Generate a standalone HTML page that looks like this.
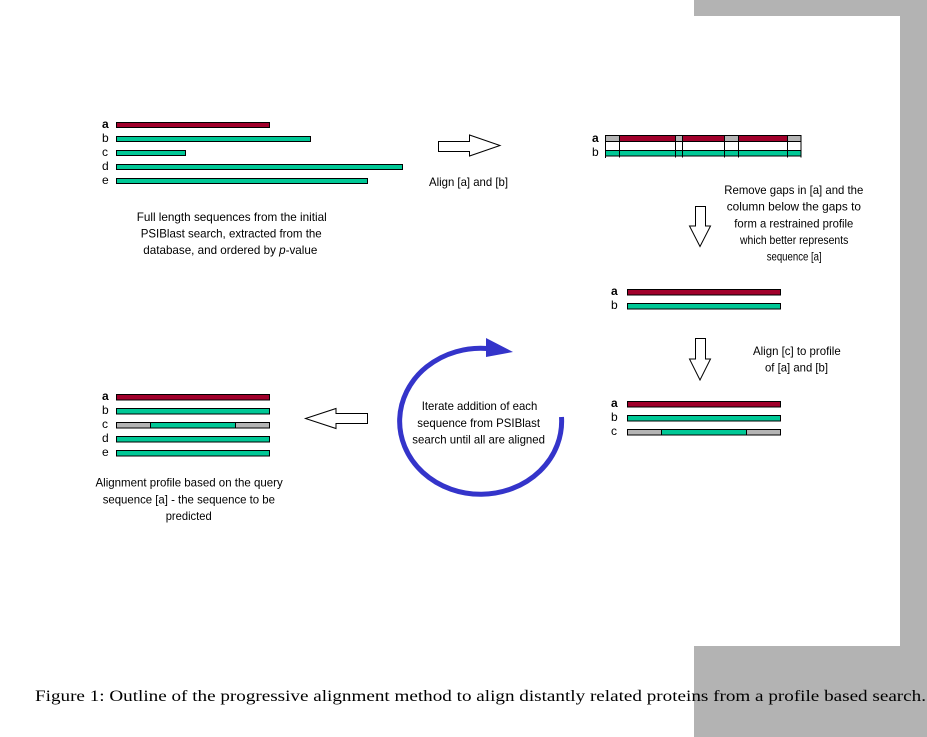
<!DOCTYPE html>
<html>
<head>
<meta charset="utf-8">
<style>
html,body{margin:0;padding:0;background:#fff;width:927px;height:737px;overflow:hidden}
svg{display:block}
text{font-family:"Liberation Sans",Arial,sans-serif;font-size:12px;fill:#000}
.l{font-size:11px}
.b{font-weight:bold}
.cap{font-family:"Liberation Serif","Times New Roman",serif;font-size:16px}
</style>
</head>
<body>
<svg width="927" height="737" viewBox="0 0 927 737" xmlns="http://www.w3.org/2000/svg">
<!-- gray border -->
<rect x="694" y="0" width="233" height="16" fill="#b3b3b3"/>
<rect x="900" y="0" width="27" height="737" fill="#b3b3b3"/>
<rect x="694" y="646" width="233" height="91" fill="#b3b3b3"/>

<g stroke="#000" stroke-width="1">
<!-- top-left group -->
<rect x="116.5" y="122.5" width="153" height="5" fill="#a1002b"/>
<rect x="116.5" y="136.5" width="194" height="5" fill="#00c896"/>
<rect x="116.5" y="150.5" width="69" height="5" fill="#00c896"/>
<rect x="116.5" y="164.5" width="286" height="5" fill="#00c896"/>
<rect x="116.5" y="178.5" width="251" height="5" fill="#00c896"/>

<!-- top-right alignment -->
<rect x="605.5" y="135.5" width="14" height="6" fill="#b4b4b4"/>
<rect x="619.5" y="135.5" width="56" height="6" fill="#a1002b"/>
<rect x="675.5" y="135.5" width="7" height="6" fill="#b4b4b4"/>
<rect x="682.5" y="135.5" width="42" height="6" fill="#a1002b"/>
<rect x="724.5" y="135.5" width="14" height="6" fill="#b4b4b4"/>
<rect x="738.5" y="135.5" width="49" height="6" fill="#a1002b"/>
<rect x="787.5" y="135.5" width="13.5" height="6" fill="#b4b4b4"/>
<rect x="605.5" y="150.5" width="195.5" height="5.5" fill="#00c896"/>
<line x1="605.5" y1="135" x2="605.5" y2="158"/>
<line x1="619.5" y1="135" x2="619.5" y2="157.5"/>
<line x1="675.5" y1="135" x2="675.5" y2="157.5"/>
<line x1="682.5" y1="135" x2="682.5" y2="157.5"/>
<line x1="724.5" y1="135" x2="724.5" y2="157.5"/>
<line x1="738.5" y1="135" x2="738.5" y2="157.5"/>
<line x1="787.5" y1="135" x2="787.5" y2="157.5"/>
<line x1="801" y1="135" x2="801" y2="157.5"/>

<!-- middle-right -->
<rect x="627.5" y="289.5" width="153" height="5.5" fill="#a1002b"/>
<rect x="627.5" y="303.5" width="153" height="5.5" fill="#00c896"/>

<!-- bottom-right -->
<rect x="627.5" y="401.5" width="153" height="5.5" fill="#a1002b"/>
<rect x="627.5" y="415.5" width="153" height="5.5" fill="#00c896"/>
<rect x="627.5" y="429.5" width="34" height="5.5" fill="#b4b4b4"/>
<rect x="661.5" y="429.5" width="85" height="5.5" fill="#00c896"/>
<rect x="746.5" y="429.5" width="34" height="5.5" fill="#b4b4b4"/>

<!-- bottom-left -->
<rect x="116.5" y="394.5" width="153" height="5.5" fill="#a1002b"/>
<rect x="116.5" y="408.5" width="153" height="5.5" fill="#00c896"/>
<rect x="116.5" y="422.5" width="34" height="5.5" fill="#b4b4b4"/>
<rect x="150.5" y="422.5" width="85" height="5.5" fill="#00c896"/>
<rect x="235.5" y="422.5" width="34" height="5.5" fill="#b4b4b4"/>
<rect x="116.5" y="436.5" width="153" height="5.5" fill="#00c896"/>
<rect x="116.5" y="450.5" width="153" height="5.5" fill="#00c896"/>

<!-- hollow arrows -->
<polygon points="438.5,141.5 469.5,141.5 469.5,135 500,145.5 469.5,156 469.5,151.5 438.5,151.5" fill="#fff"/>
<polygon points="695.5,206.5 705.5,206.5 705.5,226 710.5,226 700,246.5 689.5,226 695.5,226" fill="#fff"/>
<polygon points="695.5,338.5 705.5,338.5 705.5,359 710.5,359 700,380 689.5,359 695.5,359" fill="#fff"/>
<polygon points="367.5,413.5 336,413.5 336,408.5 305.5,418.5 336,428.5 336,423.5 367.5,423.5" fill="#fff"/>
</g>

<!-- blue circular arrow -->
<path d="M 561.5 417 A 81 73 0 1 1 487 348.5" fill="none" stroke="#3434ca" stroke-width="5"/>
<polygon points="486,338 513,352 486,357" fill="#3434ca"/>

<!-- sequence labels -->
<g class="l">
<text x="102" y="128" class="b">a</text>
<text x="102" y="142">b</text>
<text x="102" y="156">c</text>
<text x="102" y="170">d</text>
<text x="102" y="184">e</text>

<text x="592" y="142" class="b">a</text>
<text x="592" y="156">b</text>

<text x="611" y="295" class="b">a</text>
<text x="611" y="309">b</text>

<text x="611" y="407" class="b">a</text>
<text x="611" y="421">b</text>
<text x="611" y="435">c</text>

<text x="102" y="400" class="b">a</text>
<text x="102" y="414">b</text>
<text x="102" y="428">c</text>
<text x="102" y="442">d</text>
<text x="102" y="456">e</text>
</g>

<!-- descriptions -->
<text x="136.7" y="221" textLength="190" lengthAdjust="spacingAndGlyphs">Full length sequences from  the initial</text>
<text x="140.7" y="237.5" textLength="181" lengthAdjust="spacingAndGlyphs">PSIBlast search, extracted from the</text>
<text x="143.3" y="254" textLength="174" lengthAdjust="spacingAndGlyphs">database, and ordered by <tspan font-style="italic">p</tspan>-value</text>

<text x="429" y="186" textLength="79" lengthAdjust="spacingAndGlyphs">Align [a] and [b]</text>

<text x="724.3" y="194" textLength="139" lengthAdjust="spacingAndGlyphs">Remove gaps in [a] and the</text>
<text x="726.7" y="210.7" textLength="134.3" lengthAdjust="spacingAndGlyphs">column below  the gaps to</text>
<text x="734.3" y="227.3" textLength="119" lengthAdjust="spacingAndGlyphs">form a restrained profile</text>
<text x="740" y="244" textLength="108.3" lengthAdjust="spacingAndGlyphs">which better represents</text>
<text x="766.7" y="260.5" textLength="55" lengthAdjust="spacingAndGlyphs">sequence [a]</text>

<text x="753" y="355" textLength="87.7" lengthAdjust="spacingAndGlyphs">Align [c] to profile</text>
<text x="765" y="371.7" textLength="63" lengthAdjust="spacingAndGlyphs">of [a] and [b]</text>

<text x="421.7" y="410" textLength="115.6" lengthAdjust="spacingAndGlyphs">Iterate addition of each</text>
<text x="417.3" y="427" textLength="122.7" lengthAdjust="spacingAndGlyphs">sequence from PSIBlast</text>
<text x="412.3" y="443.5" textLength="132.7" lengthAdjust="spacingAndGlyphs">search until all are aligned</text>

<text x="95.5" y="486.7" textLength="187.2" lengthAdjust="spacingAndGlyphs">Alignment profile based on the query</text>
<text x="102.7" y="503.3" textLength="172.3" lengthAdjust="spacingAndGlyphs">sequence [a] - the sequence to be</text>
<text x="165.7" y="520" textLength="46" lengthAdjust="spacingAndGlyphs">predicted</text>

<!-- caption -->
<text class="cap" x="35" y="701" textLength="891" lengthAdjust="spacingAndGlyphs">Figure 1: Outline of the progressive alignment method to align distantly related proteins from a profile based search.</text>
</svg>
</body>
</html>
